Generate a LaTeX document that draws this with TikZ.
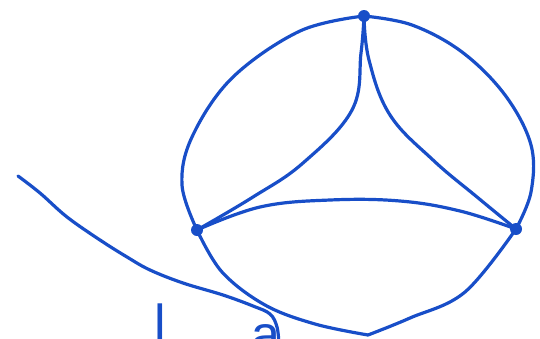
\documentclass[tikz,border=0pt]{standalone}
\usepackage{fontspec}
\setmainfont{Liberation Sans}
\definecolor{ink}{RGB}{24,78,200}
\begin{document}
\begin{tikzpicture}[x=1pt,y=-1pt,
  stroke/.style={draw=ink,line width=3.2pt,line cap=round,line join=round},
  vert/.style={circle,fill=ink,inner sep=0pt,minimum size=12pt},
  letter/.style={text=ink,font=\fontsize{52}{52}\selectfont,inner sep=0pt,anchor=base}]
\useasboundingbox (0,0) rectangle (540,338);
\clip (0,0) rectangle (540,338);
\coordinate (T) at (364,16);
\coordinate (L) at (197,230);
\coordinate (R) at (516,229);
\coordinate (B) at (368,335);
\coordinate (S) at (18,176);
\coordinate (E) at (279,345);
% outer loop
\draw[stroke] plot[smooth,tension=0.6] coordinates {(T) (300,31) (232,78) (192,137) (182,185) (L)};
\draw[stroke] plot[smooth,tension=0.6] coordinates {(L) (222,272) (265,305) (315,324) (B)};
\draw[stroke] plot[smooth,tension=0.6] coordinates {(B) (410,318) (465,292) (R)};
\draw[stroke] plot[smooth,tension=0.6] coordinates {(R) (531,192) (531,145) (505,95) (462,52) (412,25) (T)};
% inner curves
\draw[stroke] plot[smooth,tension=0.65] coordinates {(T) (361,53) (352,110) (303,163) (253,197) (L)};
\draw[stroke] plot[smooth,tension=0.65] coordinates {(T) (369,60) (390,115) (433,160) (477,197) (R)};
\draw[stroke] plot[smooth,tension=0.65] coordinates {(L) (260,207) (330,200) (400,201) (460,211) (R)};
% tail
\draw[stroke] plot[smooth,tension=0.6] coordinates {(S) (40,193) (67,217) (100,240) (127,257) (150,270) (183,283) (223,295) (253,306) (270,314) (277,327) (E)};
% vertices
\node[vert] (t) at (T) {};
\node[vert] (l) at (L) {};
\node[vert] (r) at (R) {};
% letters
\node[letter] (la) at (160,341) {l};
\node[letter] (lb) at (266,352) {a};
\end{tikzpicture}
\end{document}
